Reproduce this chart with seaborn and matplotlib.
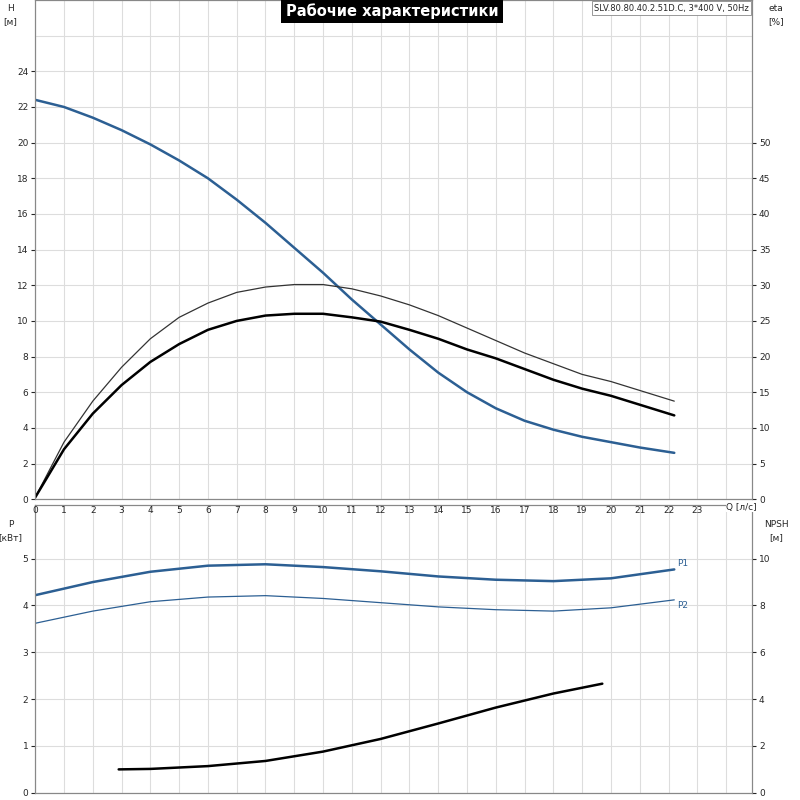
import matplotlib
matplotlib.use("Agg")
import matplotlib.pyplot as plt
import seaborn as sns
import numpy as np
import pandas as pd

sns.set_style("whitegrid")
plt.rcParams['font.family'] = ['DejaVu Sans']

q_h = [0, 1, 2, 3, 4, 5, 6, 7, 8, 9, 10, 11, 12, 13, 14, 15, 16, 17, 18, 19, 20, 21, 22.2]
head = [22.4, 22.0, 21.4, 20.7, 19.9, 19.0, 18.0, 16.8, 15.5, 14.1, 12.7, 11.2, 9.8, 8.4,
        7.1, 6.0, 5.1, 4.4, 3.9, 3.5, 3.2, 2.9, 2.6]
eta_thin = [0.25, 8.0, 13.75, 18.5, 22.5, 25.5, 27.5, 29.0, 29.75, 30.1, 30.1, 29.5, 28.5,
            27.25, 25.75, 24.0, 22.25, 20.5, 19.0, 17.5, 16.5, 15.25, 13.75]
eta_thick = [0.25, 7.0, 12.0, 16.0, 19.25, 21.75, 23.75, 25.0, 25.75, 26.0, 26.0, 25.5,
             24.9, 23.75, 22.5, 21.0, 19.75, 18.25, 16.75, 15.5, 14.5, 13.25, 11.75]

q_p = [0, 2, 4, 6, 8, 10, 12, 14, 16, 18, 20, 22.2]
p1 = [4.22, 4.5, 4.72, 4.85, 4.88, 4.82, 4.73, 4.62, 4.55, 4.52, 4.58, 4.77]
p2 = [3.62, 3.88, 4.08, 4.18, 4.21, 4.15, 4.06, 3.97, 3.91, 3.88, 3.95, 4.12]

q_npsh = [2.9, 4, 6, 8, 10, 12, 14, 16, 18, 19.7]
npsh = [1.0, 1.02, 1.14, 1.36, 1.76, 2.3, 2.96, 3.64, 4.24, 4.66]

BLUE = "#2c5f93"
XMAX = 24.9

fig = plt.figure(figsize=(8, 8), dpi=100)
ax2 = fig.add_axes([0.044, 0.009, 0.896, 0.36])
ax2n = ax2.twinx()
ax1 = fig.add_axes([0.044, 0.376, 0.896, 0.624])
ax1e = ax1.twinx()
for ax in (ax1, ax1e, ax2, ax2n):
    ax.set_facecolor("none")

kw = dict(solid_joinstyle="round", solid_capstyle="round")
sns.lineplot(data=pd.DataFrame({"Q": q_h, "v": head}), x="Q", y="v", ax=ax1, color=BLUE, lw=1.8, **kw)
sns.lineplot(data=pd.DataFrame({"Q": q_h, "v": eta_thin}), x="Q", y="v", ax=ax1e, color="#333333", lw=0.9, **kw)
sns.lineplot(data=pd.DataFrame({"Q": q_h, "v": eta_thick}), x="Q", y="v", ax=ax1e, color="black", lw=1.8, **kw)
sns.lineplot(data=pd.DataFrame({"Q": q_p, "v": p1}), x="Q", y="v", ax=ax2, color=BLUE, lw=1.8, **kw)
sns.lineplot(data=pd.DataFrame({"Q": q_p, "v": p2}), x="Q", y="v", ax=ax2, color=BLUE, lw=0.9, **kw)
sns.lineplot(data=pd.DataFrame({"Q": q_npsh, "v": npsh}), x="Q", y="v", ax=ax2n, color="black", lw=1.8, **kw)
ax2.text(q_p[-1] + 0.1, p1[-1] + 0.03, "P1", color=BLUE, fontsize=6.5, va="bottom")
ax2.text(q_p[-1] + 0.1, p2[-1] - 0.03, "P2", color=BLUE, fontsize=6.5, va="top")

for ax in (ax1, ax1e, ax2, ax2n):
    ax.set_xlim(0, XMAX)
    ax.set_xlabel("")
    ax.set_ylabel("")
    ax.tick_params(labelsize=6.5, length=3, pad=2)
    ax.tick_params(which="minor", length=0)
    for s in ax.spines.values():
        s.set_color("#888888")

ax1.set_ylim(0, 28)
ax1.set_yticks(np.arange(0, 25, 2))
ax1.set_yticks([26], minor=True)
ax1.set_xticks(np.arange(0, 24, 1))
ax1.set_xticks([24], minor=True)
ax1.grid(True, which="both", color="#dddddd", lw=0.8)
ax1e.set_ylim(0, 70)
ax1e.set_yticks(np.arange(0, 51, 5))
ax1e.grid(False)

ax2.set_ylim(0, 6.15)
ax2.set_yticks(np.arange(0, 6, 1))
ax2.set_xticks(np.arange(0, 25, 1))
ax2.set_xticklabels([])
ax2.grid(True, color="#dddddd", lw=0.8)
ax2n.set_ylim(0, 12.3)
ax2n.set_yticks(np.arange(0, 11, 2))
ax2n.grid(False)

fig.text(0.013, 0.995, "H\n[м]", fontsize=6.5, ha="center", va="top", linespacing=1.6)
fig.text(0.97, 0.995, "eta\n[%]", fontsize=6.5, ha="center", va="top", linespacing=1.6)
fig.text(0.013, 0.35, "P\n[кВт]", fontsize=6.5, ha="center", va="top", linespacing=1.6)
fig.text(0.97, 0.35, "NPSH\n[м]", fontsize=6.5, ha="center", va="top", linespacing=1.6)
fig.text(0.927, 0.366, "Q [л/с]", fontsize=6.5, ha="center", va="center",
         bbox=dict(facecolor="white", edgecolor="none", pad=0.5))
fig.text(0.49, 0.986, "Рабочие характеристики", fontsize=10.5, color="white", ha="center",
         va="center", fontweight="bold",
         bbox=dict(facecolor="black", edgecolor="none", pad=3))
fig.text(0.936, 0.99, "SLV.80.80.40.2.51D.C, 3*400 V, 50Hz", fontsize=6, ha="right", va="center",
         bbox=dict(facecolor="white", edgecolor="#888888", lw=0.6, pad=1.5))

fig.savefig("out.png", dpi=100)
